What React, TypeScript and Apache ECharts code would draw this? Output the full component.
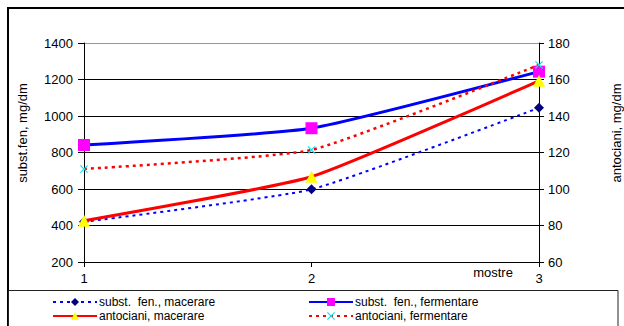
import React, { useEffect, useRef } from "react";
import * as echarts from "echarts";

const categories = ["1", "2", "3"];
const fenMacerare = [420, 598, 1045];
const fenFermentare = [841, 933, 1243];
const antMacerare = [82.6, 106.7, 159.3];
const antFermentare = [111, 121.4, 168];
const seriesNames = [
  "subst.  fen., macerare",
  "subst.  fen., fermentare",
  "antociani, macerare",
  "antociani, fermentare",
];

const FONT = "'Liberation Sans', Arial, sans-serif";
const X_SYMBOL =
  "path://M1,0 L5,4 L9,0 L10,1 L6,5 L10,9 L9,10 L5,6 L1,10 L0,9 L4,5 L0,1 Z";

export default function App() {
  const ref = useRef<HTMLDivElement>(null);
  useEffect(() => {
    if (!ref.current) return;
    const chart = echarts.init(ref.current, null, { renderer: "svg" });
    const legendBase = {
      orient: "vertical" as const,
      top: 296,
      height: 60,
      width: 250,
      padding: 0,
      itemWidth: 44,
      itemHeight: 10,
      itemGap: 2,
      textStyle: { fontFamily: FONT, fontSize: 12, color: "#000", lineHeight: 10, padding: [0, 0, 0, -3] },
    };
    chart.setOption({
      animation: false,
      backgroundColor: "#fff",
      textStyle: { fontFamily: FONT },
      grid: { left: 84, right: 85, top: 43, bottom: 64 },
      legend: [
        { ...legendBase, left: 52, data: [seriesNames[0], seriesNames[2]] },
        { ...legendBase, left: 308, data: [seriesNames[1], seriesNames[3]] },
      ],
      xAxis: {
        type: "category",
        data: categories,
        boundaryGap: false,
        axisLine: { lineStyle: { color: "#000", width: 1 } },
        axisTick: { show: true, length: 5, lineStyle: { color: "#000" } },
        axisLabel: { color: "#000", fontSize: 13, fontFamily: FONT, margin: 10 },
        splitLine: { show: false },
      },
      yAxis: [
        {
          type: "value",
          min: 200,
          max: 1400,
          interval: 200,
          axisLine: { show: true, lineStyle: { color: "#000" } },
          axisTick: { show: true, length: 6, lineStyle: { color: "#000" } },
          axisLabel: {
            color: "#000",
            fontSize: 13,
            fontFamily: FONT,
            margin: 11,
            formatter: (v: number) => String(v),
          },
          splitLine: {
            show: true,
            lineStyle: {
              color: ["#000", "#000", "#000", "#000", "#000", "#000", "#999"],
              width: 1,
            },
          },
        },
        {
          type: "value",
          min: 60,
          max: 180,
          interval: 20,
          position: "right",
          axisLine: { show: true, lineStyle: { color: "#000" } },
          axisTick: { show: true, length: 5, lineStyle: { color: "#000" } },
          axisLabel: {
            color: "#000",
            fontSize: 13,
            fontFamily: FONT,
            margin: 9,
            formatter: (v: number) => String(v),
          },
          splitLine: { show: false },
        },
      ],
      series: [
        {
          name: seriesNames[0],
          type: "line",
          yAxisIndex: 0,
          data: fenMacerare,
          smooth: 0.15,
          symbol: "diamond",
          symbolSize: 10,
          itemStyle: { color: "#000080" },
          lineStyle: { color: "#0000ff", width: 2, type: [3, 4] },
          z: 3,
        },
        {
          name: seriesNames[1],
          type: "line",
          yAxisIndex: 0,
          data: fenFermentare,
          smooth: 0.15,
          symbol: "rect",
          symbolSize: 12,
          itemStyle: { color: "#ff00ff" },
          lineStyle: { color: "#0000ff", width: 3 },
          z: 4,
        },
        {
          name: seriesNames[2],
          type: "line",
          yAxisIndex: 1,
          data: antMacerare,
          smooth: 0.15,
          symbol: "triangle",
          symbolSize: 12,
          itemStyle: { color: "#ffff00" },
          lineStyle: { color: "#ff0000", width: 3 },
          z: 5,
        },
        {
          name: seriesNames[3],
          type: "line",
          yAxisIndex: 1,
          data: antFermentare,
          smooth: 0.15,
          symbol: X_SYMBOL,
          symbolSize: 8,
          itemStyle: { color: "#00e5ee" },
          lineStyle: { color: "#ff0000", width: 2.5, type: [3, 4] },
          z: 6,
        },
      ],
      graphic: [
        {
          type: "rect",
          shape: { x: 8, y: 8, width: 700, height: 400 },
          style: { fill: "none", stroke: "#000", lineWidth: 2 },
          silent: true,
        },
        {
          type: "rect",
          shape: { x: 8.5, y: 290.5, width: 609.5, height: 100 },
          style: { fill: "none", stroke: "#222", lineWidth: 1 },
          silent: true,
        },
        {
          type: "text",
          x: 493,
          y: 272,
          style: {
            text: "mostre",
            fontFamily: FONT,
            fontSize: 13,
            fill: "#000",
            align: "center",
            verticalAlign: "middle",
          },
        },
        {
          type: "text",
          x: 22,
          y: 133,
          rotation: Math.PI / 2,
          style: {
            text: "subst.fen, mg/dm",
            fontFamily: FONT,
            fontSize: 13,
            fill: "#000",
            align: "center",
            verticalAlign: "middle",
          },
        },
        {
          type: "text",
          x: 616,
          y: 133,
          rotation: Math.PI / 2,
          style: {
            text: "antociani, mg/dm",
            fontFamily: FONT,
            fontSize: 13,
            fill: "#000",
            align: "center",
            verticalAlign: "middle",
          },
        },
      ],
    });
    return () => chart.dispose();
  }, []);
  return (
    <div
      ref={ref}
      style={{ position: "fixed", left: 0, top: 0, width: 624, height: 326 }}
    />
  );
}
